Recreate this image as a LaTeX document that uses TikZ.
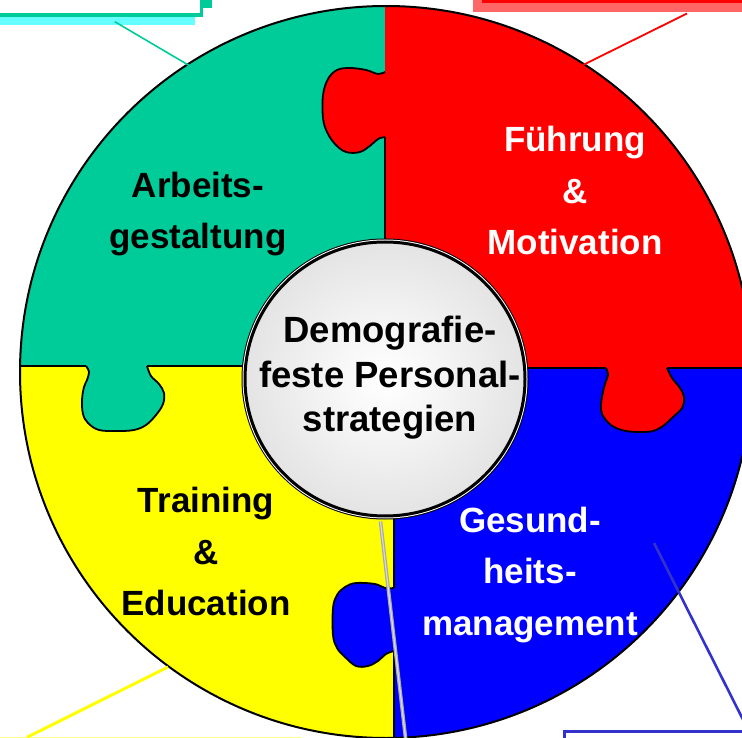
\documentclass[tikz,border=0pt]{standalone}
\usepackage{fontspec}
\setmainfont{Liberation Sans}
\usetikzlibrary{shapes.geometric,calc}
\definecolor{pgreen}{HTML}{00CC99}
\definecolor{pcyan}{HTML}{66FFFF}
\definecolor{ppink}{HTML}{FF6666}
\definecolor{pred}{HTML}{FF0000}
\definecolor{pblue}{HTML}{0000FF}
\definecolor{pyellow}{HTML}{FFFF00}
\definecolor{pline}{HTML}{3333CC}
\definecolor{pgrey}{HTML}{A8A8A8}
\definecolor{pgreylight}{HTML}{DADADA}
\pgfdeclareradialshading{discshade}{\pgfpoint{0bp}{0bp}}{color(0bp)=(white); color(8bp)=(white!97!black); color(50bp)=(black!22)}
\tikzset{
  tabline/.style={draw=black, line width=1.8pt},
  divline/.style={draw=black, line width=1.3pt},
  lab/.style={font=\bfseries\fontsize{35}{51.5}\selectfont, align=center, inner sep=0pt},
  ctext/.style={font=\bfseries\fontsize{36.5}{44.5}\selectfont, align=center, inner sep=0pt},
  boxnode/.style={fill=white, inner sep=0pt},
  conn/.style={line cap=butt}
}
\begin{document}
\begin{tikzpicture}[x=1pt,y=-1pt]
\useasboundingbox (0,0) rectangle (742,738);
\clip (0,0) rectangle (742,738);

% partially visible boxes
\fill[pgreen] (-10,-10) rectangle (212,8);
\fill[pcyan] (-10,-10) rectangle (195,25);
\node[boxnode, draw=pgreen, line width=3.4pt, minimum width=261.5pt, minimum height=75pt] (boxTL) at (70.75,-22.5) {};
\fill[ppink] (473,-10) rectangle (760,12);
\node[boxnode, draw=pred, line width=3pt, minimum width=316.5pt, minimum height=61.8pt] (boxTR) at (641.75,-29.1) {};
\node[boxnode, draw=pline, line width=3pt, minimum width=235.5pt, minimum height=68.5pt] (boxBR) at (682.25,765.75) {};
\node[boxnode, draw=pyellow!45, line width=2pt, minimum width=360pt, minimum height=60pt] (boxBL) at (120,768.3) {};

% puzzle pieces
\begin{scope}
\clip (386,372) circle[radius=366];
\fill[pgreen] (0,0) rectangle (385,366);
\fill[pred] (385,0) rectangle (760,368);
\fill[pyellow] (0,366) rectangle (394,760);
\fill[pblue] (394,368) rectangle (760,760);
% tabs
\fill[pred] plot[smooth, tension=0.6] coordinates {(385,72) (378,74) (366,70) (350,68) (337,70) (328,79) (323,95) (323,118) (327,132) (335,144) (346,152) (360,152) (371,145) (378,139) (385,137)} -- cycle;
\draw[tabline] plot[smooth, tension=0.6] coordinates {(385,72) (378,74) (366,70) (350,68) (337,70) (328,79) (323,95) (323,118) (327,132) (335,144) (346,152) (360,152) (371,145) (378,139) (385,137)};
\fill[pgreen] plot[smooth, tension=0.6] coordinates {(86,366) (89,372) (87,380) (84,387) (82,400) (83,414) (88,423) (99,430) (117,431) (134,430) (146,425) (156,415) (163,404) (164,393) (159,384) (151,376) (147,366)} -- cycle;
\draw[tabline] plot[smooth, tension=0.6] coordinates {(86,366) (89,372) (87,380) (84,387) (82,400) (83,414) (88,423) (99,430) (117,431) (134,430) (146,425) (156,415) (163,404) (164,393) (159,384) (151,376) (147,366)};
\fill[pred] plot[smooth, tension=0.6] coordinates {(606,368) (608,375) (605,384) (602,397) (601,410) (605,419) (614,427) (626,431) (640,432) (653,431) (663,426) (673,417) (682,408) (684,397) (680,388) (672,378) (667,368)} -- cycle;
\draw[tabline] plot[smooth, tension=0.6] coordinates {(606,368) (608,375) (605,384) (602,397) (601,410) (605,419) (614,427) (626,431) (640,432) (653,431) (663,426) (673,417) (682,408) (684,397) (680,388) (672,378) (667,368)};
\fill[pblue] plot[smooth, tension=0.6] coordinates {(394,588) (385,588) (375,584) (356,583) (345,587) (337,595) (333,608) (333,635) (337,648) (345,657) (356,666) (368,666) (378,661) (386,654) (394,651)} -- cycle;
\draw[tabline] plot[smooth, tension=0.6] coordinates {(394,588) (385,588) (375,584) (356,583) (345,587) (337,595) (333,608) (333,635) (337,648) (345,657) (356,666) (368,666) (378,661) (386,654) (394,651)};
% dividers
\draw[divline] (385,137) -- (385,372);
\draw[divline] (0,366) -- (86,366) (147,366) -- (386,366);
\draw[divline] (386,368) -- (606,368) (667,368) -- (760,368);
\draw[divline] (394,372) -- (394,588) (394,651) -- (394,760);
\end{scope}
\draw[line width=2pt] (386,372) circle[radius=366];

% centre disc
\node[ellipse, minimum width=280pt, minimum height=274pt, inner sep=0pt,
      preaction={draw=black, line width=7pt}, preaction={draw=white, line width=5pt},
      shade, shading=discshade, draw=black, line width=3pt] (center) at (385,379) {};
\node[ctext] (ctext) at (390,378) {Demografie-\\feste Personal-\\strategien};

% labels
\node[lab] (arb) at (198,214) {Arbeits-\\gestaltung};
\node[lab, text=white] (fuehr) at (575,190.5) {Führung\\\&\\Motivation};
\node[lab] (train) at (206,551.5) {Training\\\&\\Education};
\node[lab, text=white] (gesund) at (530,575) {Gesund-\\heits-\\management};

% connectors
\coordinate (gEnd) at (190,66);
\coordinate (rEnd) at (583,65);
\coordinate (yEnd) at (168,667);
\coordinate (bStart) at (654,543);
\coordinate (greyEnd) at (406,742);
\draw[conn, pgreen, line width=1.6pt] ([xshift=44pt,yshift=-5pt]boxTL.south) -- (gEnd);
\draw[conn, pred, line width=1.8pt] ([xshift=45.25pt,yshift=-10.2pt]boxTR.south) -- (rEnd);
\draw[conn, pyellow, line width=3pt] ([xshift=-93pt]boxBL.north) -- (yEnd);
\draw[conn, pline, line width=2.6pt] (bStart) -- ([xshift=66pt]boxBR.north);
\draw[conn, pgrey, line width=3.6pt] ([xshift=-4.5pt,yshift=-4pt]center.south) -- (greyEnd);
\draw[conn, pgreylight, line width=1.2pt] ([xshift=-4.5pt,yshift=-4pt]center.south) -- (greyEnd);
\end{tikzpicture}
\end{document}
